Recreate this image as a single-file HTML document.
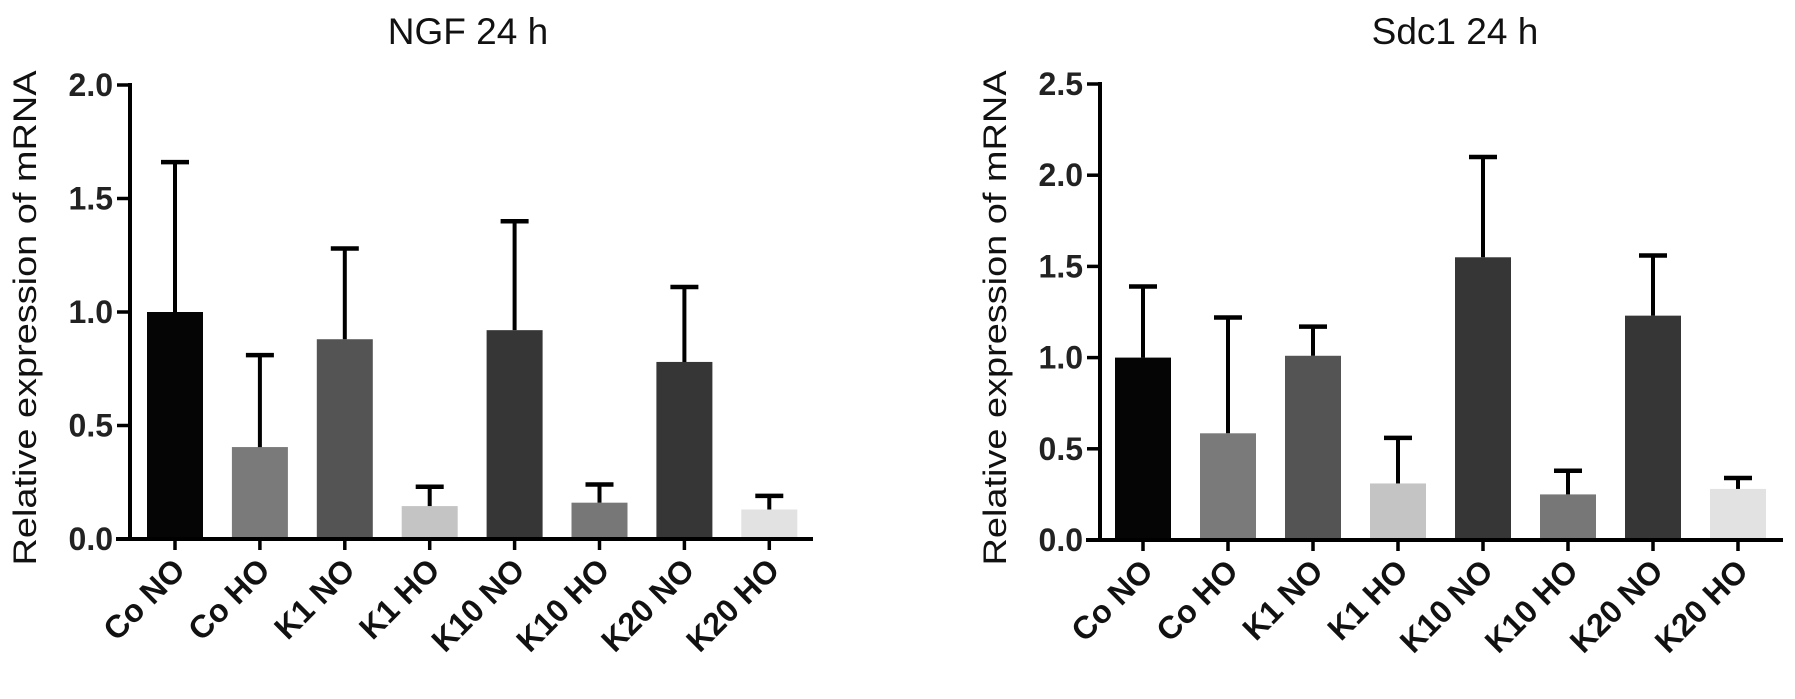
<!DOCTYPE html>
<html><head><meta charset="utf-8"><style>
html,body{margin:0;padding:0;background:#fff;}
svg{display:block;font-family:"Liberation Sans",Arial,sans-serif;}
</style></head><body>
<svg id="fig" width="1795" height="699" viewBox="0 0 1795 699"></svg>
<script>
const categories = ["Co NO","Co HO","K1 NO","K1 HO","K10 NO","K10 HO","K20 NO","K20 HO"];
const barColors = ["#050505","#7a7a7a","#545454","#c4c4c4","#363636","#777777","#363636","#e2e2e2"];
const ngfMeans = [1.0,0.405,0.88,0.145,0.92,0.16,0.78,0.13];
const ngfErrTops = [1.66,0.81,1.28,0.23,1.40,0.24,1.11,0.19];
const ngfTicks = [0,0.5,1.0,1.5,2.0];
const sdcMeans = [1.0,0.585,1.01,0.31,1.55,0.25,1.23,0.28];
const sdcErrTops = [1.39,1.22,1.17,0.56,2.10,0.38,1.56,0.34];
const sdcTicks = [0,0.5,1.0,1.5,2.0,2.5];

const NS="http://www.w3.org/2000/svg";
const svg=document.getElementById('fig');
function mk(tag,attrs,parent){const e=document.createElementNS(NS,tag);for(const k in attrs)e.setAttribute(k,attrs[k]);(parent||svg).appendChild(e);return e;}

function drawChart(cfg){
  const g=mk('g',{});
  
  
  const y=v=>cfg.y0-(v-0)/(cfg.ymax)*(cfg.y0-cfg.yTop);
  const x=i=>cfg.firstX+i*cfg.step;
  const t=mk('text',{x:cfg.titleX,y:44,'text-anchor':'middle','font-size':37,fill:'#111'},g);
  t.textContent=cfg.title;
  
  
  const yt=mk('text',{x:0,y:0,'text-anchor':'middle','font-size':32,fill:'#111',transform:`translate(${cfg.axisX-94},${(cfg.yTop+cfg.y0)/2+6}) rotate(-90)`,textLength:495,lengthAdjust:'spacingAndGlyphs'},g);
  yt.textContent="Relative expression of mRNA";
  
  
  cfg.means.forEach((m,i)=>{
    const cx=x(i);
    const r=mk('rect',{x:cx-28,y:y(m),width:56,height:cfg.y0-y(m),fill:barColors[i]},g);
    
    
    const e=mk('line',{x1:cx,x2:cx,y1:y(m),y2:y(cfg.errs[i]),stroke:'#000','stroke-width':4},g);
    
    
    const c=mk('line',{x1:cx-14,x2:cx+14,y1:y(cfg.errs[i]),y2:y(cfg.errs[i]),stroke:'#000','stroke-width':4.5},g);
    
    
    const xt=mk('line',{x1:cx,x2:cx,y1:cfg.y0,y2:cfg.y0+11,stroke:'#000','stroke-width':3.5},g);
    
    
    const lb=mk('text',{x:0,y:0,'text-anchor':'end','font-size':32,'font-weight':'bold',fill:'#111',transform:`translate(${cx+12},${cfg.y0+33}) rotate(-45)`},g);
    lb.textContent=categories[i];
    
    
  });
  const ya=mk('line',{x1:cfg.axisX,x2:cfg.axisX,y1:cfg.yTop-2,y2:cfg.y0+2,stroke:'#000','stroke-width':4},g);
  
  
  const xa=mk('line',{x1:cfg.axisX-14,x2:cfg.axisEnd,y1:cfg.y0,y2:cfg.y0,stroke:'#000','stroke-width':4},g);
  
  
  cfg.ticks.forEach(v=>{
    const tk=mk('line',{x1:cfg.axisX-13,x2:cfg.axisX,y1:y(v),y2:y(v),stroke:'#000','stroke-width':3.5},g);
    
    
    const tl=mk('text',{x:cfg.axisX-17,y:y(v)+11,'text-anchor':'end','font-size':32,'font-weight':'bold',fill:'#222'},g);
    tl.textContent=v.toFixed(1);
    
    
  });
}
drawChart({name:'ngf-chart',title:'NGF 24 h',titleX:468,axisX:130,axisEnd:813,yTop:85,y0:539,ymax:2.0,firstX:175,step:84.9,means:ngfMeans,errs:ngfErrTops,ticks:ngfTicks});
drawChart({name:'sdc1-chart',title:'Sdc1 24 h',titleX:1455,axisX:1100,axisEnd:1783,yTop:84,y0:540,ymax:2.5,firstX:1143,step:85,means:sdcMeans,errs:sdcErrTops,ticks:sdcTicks});
</script>
</body></html>
